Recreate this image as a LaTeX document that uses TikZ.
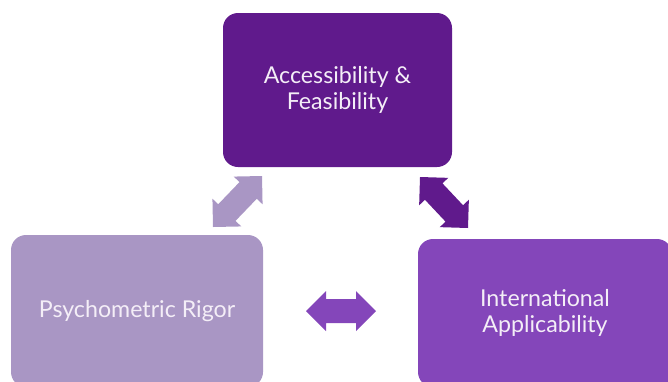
\documentclass[tikz,border=0pt]{standalone}
\usepackage{fontspec}
\setmainfont{Lato}
\usetikzlibrary{calc}
\definecolor{topc}{HTML}{601A8C}
\definecolor{rightc}{HTML}{8446BA}
\definecolor{leftc}{HTML}{A996C4}
\definecolor{txtc}{HTML}{F4EEF7}
\tikzset{
  box/.style={fill=#1, rounded corners=15pt, inner sep=0pt, text=txtc,
    align=center, font=\fontsize{23.2}{26}\selectfont},
  barrow/.style={fill=#1, draw=none}
}
% block double arrow: #1 colour, #2 start tip, #3 end tip
\newcommand\blockarrow[3]{%
  \def\hl{20pt}\def\hw{20pt}\def\sw{12pt}%
  \fill[barrow=#1] (#2)
    -- ($(#2)!\hl!(#3)!\hw!90:(#3)$)
    -- ($(#2)!\hl!(#3)!\sw!90:(#3)$)
    -- ($(#3)!\hl!(#2)!\sw!-90:(#2)$)
    -- ($(#3)!\hl!(#2)!\hw!-90:(#2)$)
    -- (#3)
    -- ($(#3)!\hl!(#2)!\hw!90:(#2)$)
    -- ($(#3)!\hl!(#2)!\sw!90:(#2)$)
    -- ($(#2)!\hl!(#3)!\sw!-90:(#3)$)
    -- ($(#2)!\hl!(#3)!\hw!-90:(#3)$)
    -- cycle;}
\begin{document}
\begin{tikzpicture}[x=1pt,y=-1pt]
\useasboundingbox (0,0) rectangle (668,381);
\clip (0,0) rectangle (668,381);
\node[box=topc, minimum width=229pt, minimum height=154pt] (acc) at (337.5,90)
  {Accessibility \&\\Feasibility};
\node[box=leftc, minimum width=252pt, minimum height=152pt] (psy) at (137,311)
  {Psychometric Rigor};
\node[box=rightc, minimum width=254pt, minimum height=148pt] (int) at (545,313)
  {International\\Applicability};
\coordinate (la) at (213,227);
\coordinate (lb) at (262,176);
\coordinate (ra) at (420,177);
\coordinate (rb) at (468,228);
\coordinate (ha) at (306,311);
\coordinate (hb) at (376,311);
\blockarrow{leftc}{la}{lb}
\blockarrow{topc}{ra}{rb}
\blockarrow{rightc}{ha}{hb}
\end{tikzpicture}
\end{document}
